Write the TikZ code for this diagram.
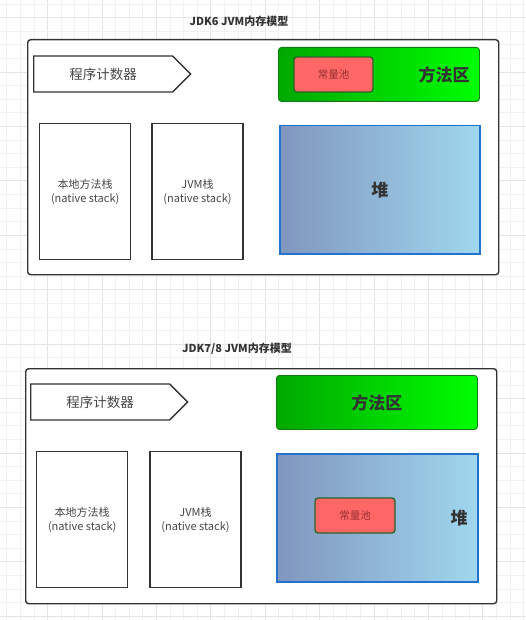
\documentclass[tikz,border=0pt]{standalone}
\usepackage{fontspec}
\setmainfont{Noto Sans CJK SC}
\usetikzlibrary{positioning,shapes.symbols}
\definecolor{LineGray}{RGB}{51,51,51}
\definecolor{TextGray}{RGB}{70,70,70}
\definecolor{GridMinor}{RGB}{241,241,241}
\definecolor{GridMajor}{RGB}{228,228,228}
\definecolor{GreenDark}{RGB}{0,168,0}
\definecolor{GreenLight}{RGB}{0,255,0}
\definecolor{GreenEdge}{RGB}{20,120,20}
\definecolor{PoolRed}{RGB}{255,102,102}
\definecolor{PoolEdge}{RGB}{40,100,40}
\definecolor{PoolText}{RGB}{150,50,50}
\definecolor{HeapLeft}{RGB}{128,150,190}
\definecolor{HeapRight}{RGB}{160,215,238}
\definecolor{HeapEdge}{RGB}{35,115,205}
\tikzset{
  gridline/.style={draw=GridMinor,line width=0.6pt},
  gridmajor/.style={draw=GridMajor,line width=0.6pt},
  titletext/.style={font=\bfseries\fontsize{11}{13}\selectfont,text=LineGray},
  frame/.style={draw=LineGray,fill=white,line width=1.4pt,rounded corners=3pt,
    anchor=north west,inner sep=0pt,minimum width=471pt,minimum height=235pt},
  pcbox/.style={signal,signal to=east,signal pointer angle=90,draw=LineGray,
    fill=white,line width=1.3pt,text=TextGray,inner sep=0pt,anchor=west,
    minimum width=157pt,minimum height=36pt,font=\fontsize{13.5}{15}\selectfont},
  stackbox/.style={draw=LineGray,fill=white,line width=1.3pt,anchor=north west,
    inner sep=0pt,minimum width=91pt,minimum height=136pt,align=center,
    text=TextGray,font=\fontsize{11}{14}\selectfont},
  methodbox/.style={draw=GreenEdge,left color=GreenDark,right color=GreenLight,
    line width=0.9pt,rounded corners=3pt,anchor=north west,inner sep=0pt,
    minimum width=201pt,minimum height=54pt},
  poolbox/.style={draw=PoolEdge,fill=PoolRed,line width=1.3pt,rounded corners=3pt,
    inner sep=0pt,minimum width=79pt,minimum height=35pt,text=PoolText,
    font=\fontsize{10.5}{12}\selectfont},
  heapbox/.style={draw=HeapEdge,left color=HeapLeft,right color=HeapRight,
    line width=1.5pt,anchor=north west,inner sep=0pt,minimum width=200pt,
    minimum height=128pt},
  bigtext/.style={font=\bfseries\fontsize{17}{19}\selectfont,text=LineGray}
}
\begin{document}
\begin{tikzpicture}[x=1pt,y=-1pt]
  \useasboundingbox[fill=white] (0,0) rectangle (526,620);
  % background grid
  \foreach \gx in {0,...,38} {
    \pgfmathtruncatemacro{\gm}{mod(\gx,4)}
    \ifnum\gm=3 \draw[gridmajor] ({6.7+13.6*\gx},0) -- ++(0,620);
    \else \draw[gridline] ({6.7+13.6*\gx},0) -- ++(0,620); \fi
  }
  \foreach \gy in {0,...,45} {
    \pgfmathtruncatemacro{\gm}{mod(\gy,4)}
    \ifnum\gm=1 \draw[gridmajor] (0,{4+13.6*\gy}) -- ++(526,0);
    \else \draw[gridline] (0,{4+13.6*\gy}) -- ++(526,0); \fi
  }

  % JDK6
  \node[titletext] (title6) at (239,21) {JDK6 JVM内存模型};
  \node[frame] (frame6) at (27,39) {};
  \node[pcbox] (pc6) at (33,74) {程序计数器};
  \node[stackbox] (native6) at (39,123) {本地方法栈\\(native stack)};
  \node[stackbox,right=20pt of native6.north east,anchor=north west] (jvm6) {JVM栈\\(native stack)};
  \node[methodbox] (method6) at (278,47) {};
  \node[poolbox] (pool6) at (333.5,74.5) {常量池};
  \node[bigtext] (methodtext6) at (444,75) {方法区};
  \node[heapbox] (heap6) at (279,125) {};
  \node[bigtext] (heaptext6) at (heap6.center) {堆};

  % JDK7/8
  \node[titletext] (title7) at (237,349) {JDK7/8 JVM内存模型};
  \node[frame] (frame7) at (25,368) {};
  \node[pcbox] (pc7) at (30,402) {程序计数器};
  \node[stackbox] (native7) at (36,451) {本地方法栈\\(native stack)};
  \node[stackbox,right=21pt of native7.north east,anchor=north west] (jvm7) {JVM栈\\(native stack)};
  \node[methodbox] (method7) at (276,375) {};
  \node[bigtext] (methodtext7) at (method7.center) {方法区};
  \node[heapbox,minimum width=201pt] (heap7) at (276,453) {};
  \node[poolbox,minimum width=80pt] (pool7) at (355,515.5) {常量池};
  \node[bigtext] (heaptext7) at (459,518) {堆};
\end{tikzpicture}
\end{document}
